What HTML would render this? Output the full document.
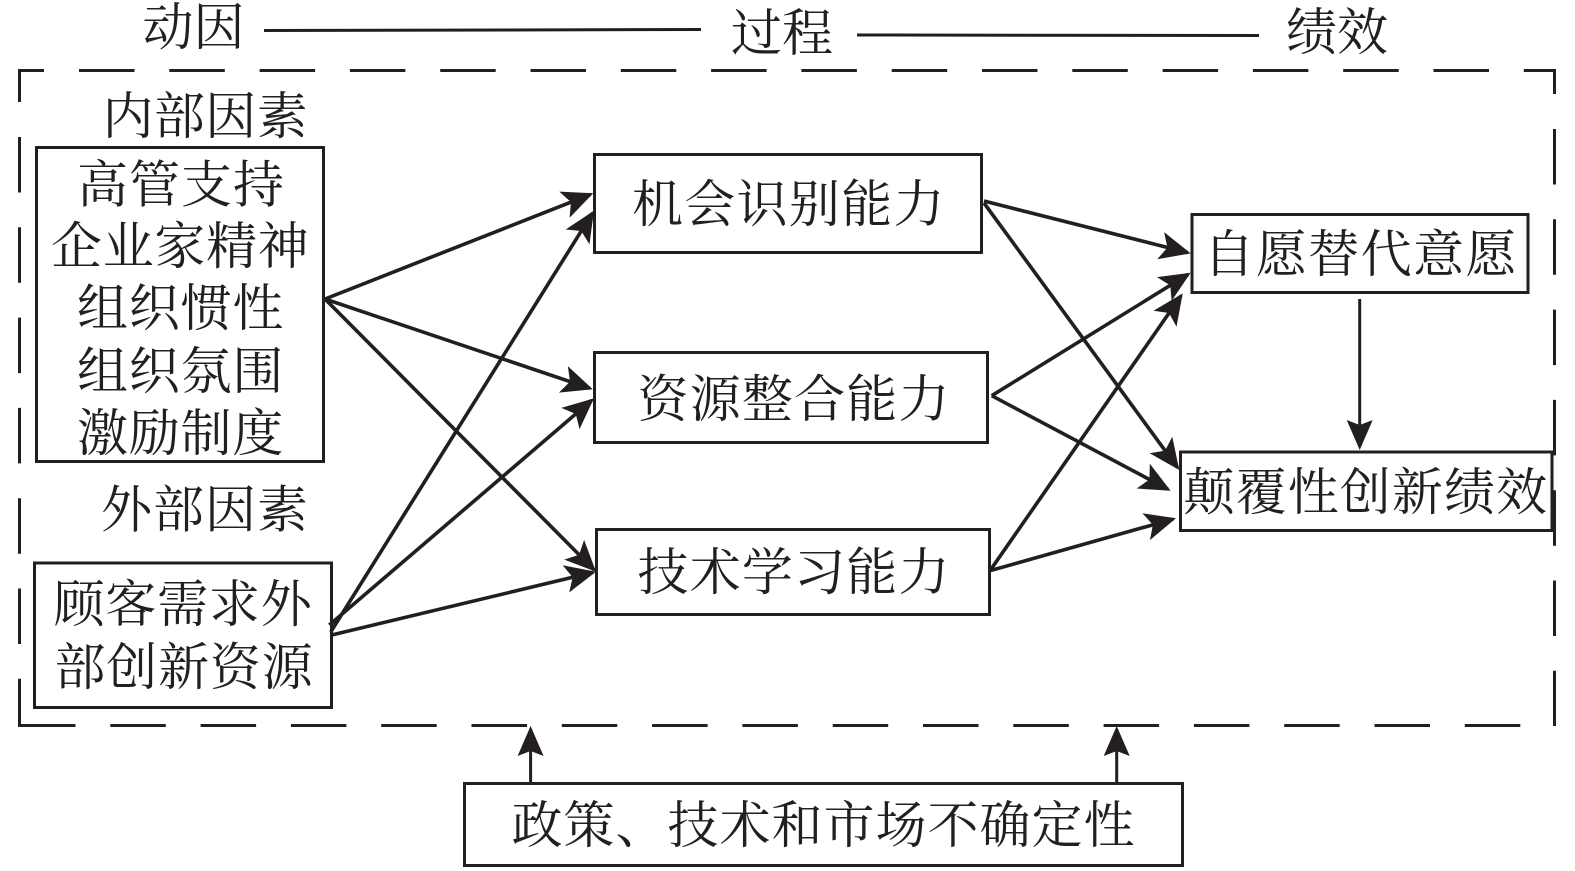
<!DOCTYPE html>
<html lang="zh">
<head>
<meta charset="utf-8">
<style>
html,body{margin:0;padding:0;background:#fff;width:1575px;height:871px;overflow:hidden}
svg{display:block}
text{font-family:"Liberation Serif","Noto Serif CJK SC",serif;font-size:51px;fill:#231f20}
</style>
</head>
<body>
<svg width="1575" height="871" viewBox="0 0 1575 871" xmlns="http://www.w3.org/2000/svg">
<defs>
<marker id="a" markerUnits="userSpaceOnUse" markerWidth="36" markerHeight="32" refX="28" refY="15" orient="auto">
<path d="M31 15L0 1L7 15L0 29Z" fill="#231f20"/>
</marker>
<marker id="b" markerUnits="userSpaceOnUse" markerWidth="36" markerHeight="32" refX="27" refY="13" orient="auto">
<path d="M30 13L0 0L5 13L0 26Z" fill="#231f20"/>
</marker>
</defs>
<rect width="1575" height="871" fill="#fff"/>
<g fill="none" stroke="#231f20" stroke-width="3">
<!-- dashed frame -->
<path d="M18 70.5H44M79 70.5H134.5M169.3 70.5H224.8M259.6 70.5H315.1M349.9 70.5H405.4M440.2 70.5H495.7M530.5 70.5H586M620.8 70.5H676.3M711.1 70.5H766.6M801.4 70.5H856.9M891.7 70.5H947.2M982 70.5H1037.5M1072.3 70.5H1127.8M1162.6 70.5H1218.1M1252.9 70.5H1308.4M1343.2 70.5H1398.7M1433.5 70.5H1489M1523.8 70.5H1556"/>
<path d="M19.5 70V102M19.5 137V192.5M19.5 227.3V282.8M19.5 317.6V373.1M19.5 407.9V463.4M19.5 498.2V553.7M19.5 588.5V644M19.5 678.8V726.5"/>
<path d="M18 725.5H75.5M110.3 725.5H165.8M200.6 725.5H256.1M290.9 725.5H346.4M381.2 725.5H436.7M471.5 725.5H527M561.8 725.5H617.3M652.1 725.5H707.6M742.4 725.5H797.9M832.7 725.5H888.2M923 725.5H978.5M1013.3 725.5H1068.8M1103.6 725.5H1159.1M1193.9 725.5H1249.4M1284.2 725.5H1339.7M1374.5 725.5H1430M1464.8 725.5H1520.3"/>
<path d="M1554.5 70V94M1554.5 129V184.5M1554.5 219.3V274.8M1554.5 309.6V365.1M1554.5 399.9V455.4M1554.5 490.2V545.7M1554.5 580.5V636M1554.5 670.8V726"/>
<!-- header lines -->
<path d="M264 30.5L701 29.5"/>
<path d="M857 35L1259 35.5"/>
<!-- boxes -->
<rect x="36.5" y="147.5" width="287" height="314"/>
<rect x="34.5" y="563" width="297" height="144.5"/>
<rect x="594.5" y="154.5" width="387" height="98"/>
<rect x="594.5" y="352.5" width="393" height="90"/>
<rect x="596.5" y="529.5" width="393" height="85"/>
<rect x="1192" y="214.5" width="336" height="78"/>
<rect x="1180.5" y="452" width="371.5" height="78.5"/>
<rect x="464.5" y="783.5" width="718" height="82"/>
<!-- arrows -->
<g marker-end="url(#a)" stroke-width="3.6">
<line x1="325" y1="299" x2="590.5" y2="194.4"/>
<line x1="325" y1="299" x2="589.9" y2="388.3"/>
<line x1="325" y1="299" x2="593.9" y2="569.6"/>
<line x1="330.7" y1="632" x2="592.4" y2="213.2"/>
<line x1="329.3" y1="625" x2="591.7" y2="400.3"/>
<line x1="331.7" y1="635" x2="593.1" y2="572.4"/>
<line x1="984" y1="201" x2="1187.8" y2="252.6"/>
<line x1="984" y1="203" x2="1177.5" y2="467.6"/>
<line x1="991.7" y1="395.7" x2="1188.1" y2="274.3"/>
<line x1="991.7" y1="395.7" x2="1168" y2="489.3"/>
<line x1="990" y1="570.7" x2="1181" y2="295.8"/>
<line x1="990" y1="570.7" x2="1173.1" y2="519.1"/>
</g>
<g marker-end="url(#b)">
<line x1="1359.7" y1="299" x2="1359.7" y2="447"/>
<line x1="530.6" y1="783" x2="530.6" y2="729"/>
<line x1="1116.7" y1="783" x2="1116.7" y2="729"/>
</g>
</g>
<text x="142.5" y="45">动因</text>
<text x="731" y="51">过程</text>
<text x="1286" y="50">绩效</text>
<text x="102.5" y="134" letter-spacing=".4">内部因素</text>
<text x="77" y="202.5" letter-spacing="1">高管支持</text>
<text x="51" y="264" letter-spacing=".7">企业家精神</text>
<text x="77" y="326" letter-spacing=".8">组织惯性</text>
<text x="77" y="389" letter-spacing=".8">组织氛围</text>
<text x="77" y="451" letter-spacing=".8">激励制度</text>
<text x="101" y="527.5" letter-spacing="1">外部因素</text>
<text x="53.5" y="622" letter-spacing=".8">顾客需求外</text>
<text x="54.5" y="685" letter-spacing=".8">部创新资源</text>
<text x="632" y="222" letter-spacing="1.3">机会识别能力</text>
<text x="637.5" y="417" letter-spacing="1.2">资源整合能力</text>
<text x="637.5" y="590" letter-spacing="1.2">技术学习能力</text>
<text x="1203.5" y="272" letter-spacing="1.4">自愿替代意愿</text>
<text x="1183.5" y="510" letter-spacing="1.1">颠覆性创新绩效</text>
<text x="511.5" y="843" letter-spacing="1">政策、技术和市场不确定性</text>
</svg>
</body>
</html>
